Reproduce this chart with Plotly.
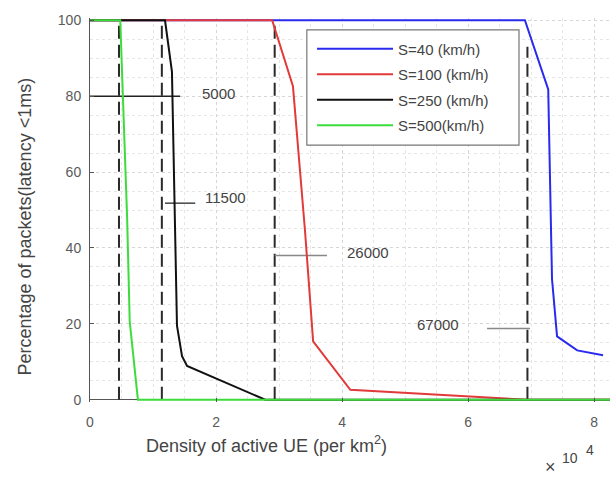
import plotly.graph_objects as go

# ---- data (x in units of 10^4 UE per km^2, y in %) ----
x_s40 = [0.0, 6.90, 7.27, 7.30, 7.33, 7.41, 7.73, 8.14]
y_s40 = [100, 100, 81.8, 57.8, 31.8, 16.7, 13.0, 11.7]

x_s100 = [0.0, 2.89, 3.22, 3.41, 3.54, 4.13, 6.94, 8.25]
y_s100 = [100, 100, 82.6, 44.8, 15.4, 2.6, 0.0, 0.0]

x_s250 = [0.0, 1.19, 1.30, 1.34, 1.38, 1.46, 1.54, 2.78, 8.25]
y_s250 = [100, 100, 86.5, 50.0, 19.5, 11.5, 8.9, 0.0, 0.0]

x_s500 = [0.0, 0.48, 0.59, 0.63, 0.76, 8.25]
y_s500 = [100, 100, 47.4, 20.6, 0.0, 0.0]

series_names = ["S=40 (km/h)", "S=100 (km/h)", "S=250 (km/h)", "S=500(km/h)"]
series_colors = ["#2a2aee", "#e23a3a", "#111111", "#3ddc3d"]

# threshold markers (dashed vertical lines) and their labels
thr_x = [0.46, 1.14, 2.93, 6.94]
thr_ytop = [100, 100, 100, 93]
thr_labels = ["5000", "11500", "26000", "67000"]
thr_line_y = [80, 51.8, 38, 18.8]
thr_text_y = [80.7, 53.4, 38.8, 19.8]
thr_seg_x0 = [0.0, 1.19, 2.93, 6.30]
thr_seg_x1 = [1.43, 1.67, 3.76, 6.98]
thr_text_x = [1.75, 1.79, 4.05, 5.16]
thr_seg_colors = ["#222222", "#444444", "#888888", "#888888"]

x_ticks = [0, 2, 4, 6, 8]
y_ticks = [0, 20, 40, 60, 80, 100]

fig = go.Figure()

# dashed vertical threshold lines
for xv, yt in zip(thr_x, thr_ytop):
    fig.add_trace(go.Scatter(x=[xv, xv], y=[0, yt], mode="lines",
                             line=dict(color="#2a2a2a", width=2, dash="13px,6px"),
                             showlegend=False, hoverinfo="skip"))

# horizontal annotation segments
for x0, x1, yv, c in zip(thr_seg_x0, thr_seg_x1, thr_line_y, thr_seg_colors):
    fig.add_trace(go.Scatter(x=[x0, x1], y=[yv, yv], mode="lines",
                             line=dict(color=c, width=1.5),
                             showlegend=False, hoverinfo="skip"))

for i, (xs, ys) in enumerate([(x_s40, y_s40), (x_s100, y_s100),
                              (x_s250, y_s250), (x_s500, y_s500)]):
    fig.add_trace(go.Scatter(x=xs, y=ys, mode="lines", name=series_names[i],
                             line=dict(color=series_colors[i], width=2),
                             legendgroup=f"g{i}"))

for tx, ty, txt in zip(thr_text_x, thr_text_y, thr_labels):
    fig.add_annotation(x=tx, y=ty, text=txt, showarrow=False, xanchor="left",
                       yanchor="middle", font=dict(size=15, color="#444444"))

# axis titles and exponent label
fig.add_annotation(xref="paper", yref="paper", x=0.34, y=-0.11,
                   text="Density of active UE (per km<sup>2</sup>)",
                   xanchor="center", yanchor="middle",
                   showarrow=False, font=dict(size=18, color="#444444"))
fig.add_annotation(xref="paper", yref="paper", x=-0.125, y=0.457,
                   text="Percentage of packets(latency <1ms)", textangle=-90,
                   xanchor="center", yanchor="middle",
                   showarrow=False, font=dict(size=18, color="#444444"))
fig.add_annotation(xref="paper", yref="paper", x=0.8865, y=-0.170,
                   text="×", xanchor="center", yanchor="middle",
                   showarrow=False, font=dict(size=18, color="#444444"))
fig.add_annotation(xref="paper", yref="paper", x=0.923, y=-0.146,
                   text="10", xanchor="center", yanchor="middle",
                   showarrow=False, font=dict(size=14, color="#444444"))
fig.add_annotation(xref="paper", yref="paper", x=0.9615, y=-0.125,
                   text="4", xanchor="center", yanchor="middle",
                   showarrow=False, font=dict(size=14, color="#444444"))

# legend frame
fig.add_shape(type="rect", xref="paper", yref="paper",
              x0=0.417, x1=0.825, y0=0.669, y1=0.969,
              line=dict(color="#777777", width=1.2), fillcolor="white",
              layer="above")

fig.update_layout(
    width=616, height=477,
    margin=dict(l=90, r=6, t=18, b=75),
    paper_bgcolor="white", plot_bgcolor="white",
    font=dict(family="Liberation Sans, Arial, sans-serif", size=14, color="#555555"),
    legend=dict(x=0.427, y=0.962, xanchor="left", yanchor="top",
                borderwidth=0, bgcolor="rgba(0,0,0,0)",
                font=dict(size=15, color="#444444"), itemwidth=76,
                tracegroupgap=3),
    xaxis=dict(range=[0, 8.25], tickvals=x_ticks, ticktext=[str(v) for v in x_ticks],
               showline=False,
               ticks="inside", ticklen=4, tickcolor="#555555",
               showgrid=True, gridcolor="#d6d6d6", griddash="dot", gridwidth=1,
               minor=dict(dtick=0.5, showgrid=True, gridcolor="#e6e6e6",
                          griddash="dot"),
               zeroline=False, ticklabelstandoff=10,
               tickfont=dict(size=14, color="#5a5a5a")),
    yaxis=dict(range=[-0.6, 100.6], tickvals=y_ticks,
               showline=True, linecolor="#555555", linewidth=1, mirror=False,
               ticks="inside", ticklen=4, tickcolor="#555555",
               showgrid=True, gridcolor="#d6d6d6", griddash="dot", gridwidth=1,
               minor=dict(dtick=5, showgrid=True, gridcolor="#e6e6e6",
                          griddash="dot"),
               zeroline=True, zerolinecolor="#555555", zerolinewidth=1,
               ticklabelstandoff=5,
               tickfont=dict(size=14, color="#5a5a5a")),
)

fig.write_html("out.html")
